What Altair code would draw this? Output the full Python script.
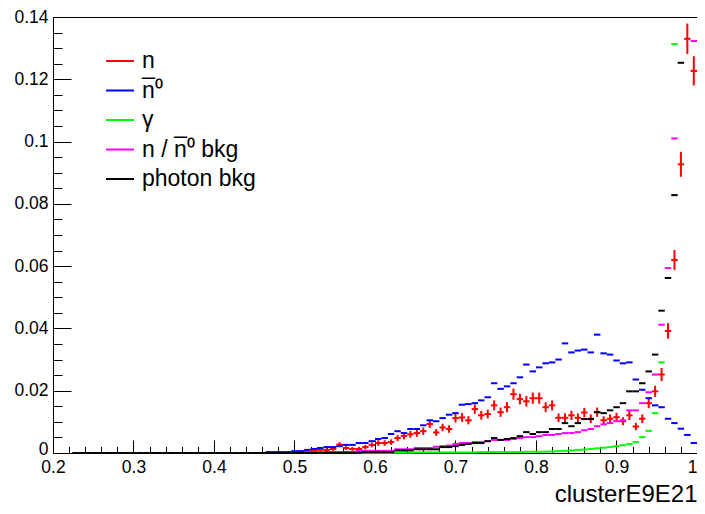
import altair as alt
import pandas as pd

# ---- histogram binning: 100 bins from 0.2 to 1.0 ----
X_MIN = 0.2
X_MAX = 1.0
N_BINS = 100
BIN_W = (X_MAX - X_MIN) / N_BINS

# ---- series values (bin contents; None = not drawn / off scale) ----
# each list ends at the last bin (0.992-1.0); earlier bins are empty
n_vals = [0.0003, 0.0006, 0.0006, 0.0010, 0.0010, 0.0013, 0.0027, 0.0016, 0.0013, 0.0013,
          0.0019, 0.0026, 0.0032, 0.0032, 0.0035, 0.0048, 0.0055, 0.0060, 0.0064, 0.0070,
          0.0093, 0.0066, 0.0082, 0.0077, 0.0112, 0.0114, 0.0105, 0.0141, 0.0121, 0.0125,
          0.0153, 0.0131, 0.0147, 0.0189, 0.0173, 0.0166, 0.0176, 0.0176, 0.0147, 0.0153,
          0.0113, 0.0113, 0.0121, 0.0113, 0.0130, 0.0110, 0.0131, 0.0105, 0.0110, 0.0115,
          0.0102, 0.0121, 0.0085, 0.0110, 0.0160, 0.0198, 0.0252, 0.0392, 0.0620, 0.0927,
          0.1330, 0.1227]
n_errs = [0.0003, 0.0004, 0.0004, 0.0005, 0.0005, 0.0006, 0.0008, 0.0006, 0.0006, 0.0006,
          0.0007, 0.0008, 0.0009, 0.0009, 0.0009, 0.0010, 0.0011, 0.0011, 0.0012, 0.0012,
          0.0013, 0.0011, 0.0012, 0.0012, 0.0014, 0.0014, 0.0013, 0.0015, 0.0014, 0.0014,
          0.0016, 0.0015, 0.0016, 0.0018, 0.0017, 0.0017, 0.0018, 0.0018, 0.0016, 0.0016,
          0.0014, 0.0014, 0.0015, 0.0014, 0.0015, 0.0014, 0.0015, 0.0013, 0.0014, 0.0014,
          0.0013, 0.0015, 0.0012, 0.0014, 0.0016, 0.0018, 0.0021, 0.0025, 0.0032, 0.0040,
          0.0049, 0.0047]

nbar_vals = [0.0003, 0.0003, 0.0003, 0.0003, 0.0006, 0.0006, 0.0010, 0.0013, 0.0016, 0.0019,
             0.0019, 0.0022, 0.0026, 0.0026, 0.0032, 0.0032, 0.0038, 0.0045, 0.0048, 0.0061,
             0.0070, 0.0064, 0.0077, 0.0077, 0.0089, 0.0105, 0.0102, 0.0112, 0.0123, 0.0128,
             0.0155, 0.0157, 0.0160, 0.0169, 0.0179, 0.0224, 0.0206, 0.0214, 0.0224, 0.0243,
             0.0284, 0.0262, 0.0275, 0.0288, 0.0291, 0.0300, 0.0352, 0.0323, 0.0329, 0.0332,
             0.0323, 0.0380, 0.0320, 0.0316, 0.0297, 0.0288, 0.0291, 0.0236, 0.0203, 0.0176,
             0.0153, 0.0147, 0.0110, 0.0096, 0.0078, 0.0058, 0.0032]

gamma_vals = [0.0001, 0.0001, 0.0001, 0.0001, 0.0001, 0.0001, 0.0001, 0.0001, 0.0001,
              0.0002, 0.0002, 0.0002, 0.0002, 0.0002, 0.0002, 0.0002, 0.0002, 0.0002, 0.0002,
              0.0003, 0.0003, 0.0003, 0.0003, 0.0003, 0.0003, 0.0003,
              0.0004, 0.0004, 0.0004, 0.0004, 0.0005, 0.0006, 0.0007, 0.0008, 0.0010, 0.0011,
              0.0013, 0.0015, 0.0017, 0.0019, 0.0022, 0.0025, 0.0029, 0.0035, 0.0051, 0.0071,
              0.0128, 0.0291, 0.0594, 0.1313, None, None, None]

nbkg_vals = [0.0001, 0.0001, 0.0001, 0.0003, 0.0003, 0.0003, 0.0003, 0.0003,
             0.0007, 0.0007, 0.0007, 0.0007, 0.0007, 0.0007, 0.0012, 0.0012, 0.0012,
             0.0016, 0.0016, 0.0016, 0.0020, 0.0022, 0.0024, 0.0029, 0.0032, 0.0032, 0.0035,
             0.0035, 0.0038, 0.0042, 0.0042, 0.0042, 0.0045, 0.0048, 0.0051, 0.0051, 0.0054,
             0.0058, 0.0058, 0.0061, 0.0064, 0.0064, 0.0067, 0.0073, 0.0077, 0.0086, 0.0092,
             0.0096, 0.0102, 0.0105, 0.0137, 0.0137, 0.0160, 0.0195, 0.0252, 0.0412, 0.0594,
             0.1010, None, None, 0.1323]

phbkg_vals = ([0.0] * 38 +
              [0.0001, 0.0001, 0.0001, 0.0001, 0.0001, 0.0001, 0.0001,
               0.0003, 0.0003, 0.0003, 0.0003, 0.0003, 0.0008, 0.0008, 0.0008,
               0.0012, 0.0012, 0.0012, 0.0012, 0.0019, 0.0019, 0.0022, 0.0026, 0.0029, 0.0032,
               0.0032, 0.0038, 0.0048, 0.0042, 0.0045, 0.0048, 0.0054, 0.0067, 0.0061, 0.0067,
               0.0067, 0.0077, 0.0077, 0.0096, 0.0086, 0.0096, 0.0109, 0.0109, 0.0131, 0.0128,
               0.0137, 0.0147, 0.0160, 0.0198, 0.0198, 0.0224, 0.0262, 0.0316, 0.0457, 0.0562,
               0.0828, 0.1253, None, None])

# ---- legend labels and colours ----
LBL_N = "n"
LBL_NBAR = "n\u0305\u2070"
LBL_GAMMA = "\u03b3"
LBL_NBKG = "n / n\u0305\u2070 bkg"
LBL_PHBKG = "photon bkg"
legend_labels = [LBL_N, LBL_NBAR, LBL_GAMMA, LBL_NBKG, LBL_PHBKG]
legend_colors = ["#ff0000", "#0000ff", "#00ff00", "#ff00ff", "#000000"]

# ---- axis tick values ----
x_major = [0.2, 0.3, 0.4, 0.5, 0.6, 0.7, 0.8, 0.9, 1.0]
x_minor = [round(0.2 + 0.02 * k, 3) for k in range(41)]
y_major = [0.0, 0.02, 0.04, 0.06, 0.08, 0.1, 0.12, 0.14]
y_minor = [round(0.005 * k, 3) for k in range(29)]


def padded(vals):
    return [None] * (N_BINS - len(vals)) + list(vals)


def rows_for(name, vals, errs=None):
    out = []
    v_full = padded(vals)
    e_full = padded(errs) if errs is not None else [None] * N_BINS
    for i, (v, e) in enumerate(zip(v_full, e_full)):
        if v is None:
            continue
        lo = X_MIN + i * BIN_W
        r = {"series": name, "lo": lo, "hi": lo + BIN_W, "mid": lo + BIN_W / 2, "val": v}
        if e is not None:
            r["elo"] = v - e
            r["ehi"] = v + e
        out.append(r)
    return out


red_df = pd.DataFrame(rows_for(LBL_N, n_vals, n_errs))
others_df = pd.DataFrame(
    rows_for(LBL_NBAR, nbar_vals)
    + rows_for(LBL_GAMMA, gamma_vals)
    + rows_for(LBL_NBKG, nbkg_vals)
    + rows_for(LBL_PHBKG, phbkg_vals)
)

FONT = "Liberation Sans"
W, H = 644, 436

xs = alt.Scale(domain=[X_MIN, X_MAX], nice=False, zero=False)
ys = alt.Scale(domain=[0.0, 0.14], nice=False)


def tick_axis(orient, vals, size):
    return alt.Axis(orient=orient, values=vals, offset=-size, tickSize=size,
                    labels=False, domain=False, grid=False, title=None,
                    ticks=True, tickColor="black", tickWidth=1)


# red error bars (carry minor tick axes)
err_layer = alt.Chart(red_df).mark_rule(color="#ff0000", strokeWidth=2).encode(
    x=alt.X("mid:Q", scale=xs, axis=tick_axis("bottom", x_minor, 6.5)),
    y=alt.Y("elo:Q", scale=ys, axis=tick_axis("left", y_minor, 9)),
    y2="ehi:Q",
)

# red bin markers (carry major tick axes)
red_layer = alt.Chart(red_df).mark_rule(color="#ff0000", strokeWidth=2).encode(
    x=alt.X("lo:Q", scale=xs, axis=tick_axis("bottom", x_major, 13)),
    x2="hi:Q",
    y=alt.Y("val:Q", scale=ys, axis=tick_axis("left", y_major, 18)),
)

# other series (carry labelled axes and the legend)
others_layer = alt.Chart(others_df).mark_rule(strokeWidth=2).encode(
    x=alt.X("lo:Q", scale=xs,
            axis=alt.Axis(orient="bottom", values=x_major, format="~g", ticks=False, tickSize=0,
                          domain=False, grid=False, labelPadding=5, labelFontSize=17.5,
                          labelFont=FONT, labelColor="black", labelFlush=False,
                          labelAlign={"condition": {"test": "datum.value >= 1", "value": "right"},
                                      "value": "center"},
                          title="clusterE9E21", titleFont=FONT, titleFontSize=24,
                          titleFontWeight="normal", titleColor="black",
                          titleX=W, titleY=53, titleAlign="right", titleBaseline="bottom")),
    x2="hi:Q",
    y=alt.Y("val:Q", scale=ys,
            axis=alt.Axis(orient="left", values=y_major, format="~g", ticks=False, tickSize=0,
                          domain=False, grid=False, labelPadding=5, labelFontSize=17.5,
                          labelFont=FONT, labelColor="black", labelFlush=False, title=None,
                          labelOffset={"condition": {"test": "datum.value === 0", "value": -4},
                                       "value": 0})),
    color=alt.Color("series:N",
                    scale=alt.Scale(domain=legend_labels, range=legend_colors),
                    legend=alt.Legend(orient="none", legendX=52, legendY=29, title=None,
                                      symbolType="stroke", symbolSize=784, symbolStrokeWidth=2,
                                      labelFont=FONT, labelFontSize=23, labelColor="black",
                                      labelOffset=7, rowPadding=2.5, padding=0)),
)

chart = (
    alt.layer(err_layer, red_layer, others_layer)
    .resolve_axis(x="independent", y="independent")
    .properties(width=W, height=H,
                autosize=alt.AutoSizeParams(type="none"),
                padding={"left": 45, "top": 9, "right": 0, "bottom": 53},
                background="white")
    .configure_view(stroke="black", strokeWidth=1)
    .configure_axis(grid=False)
)

chart.save("out.html", embed_options={"renderer": "svg", "actions": False})
